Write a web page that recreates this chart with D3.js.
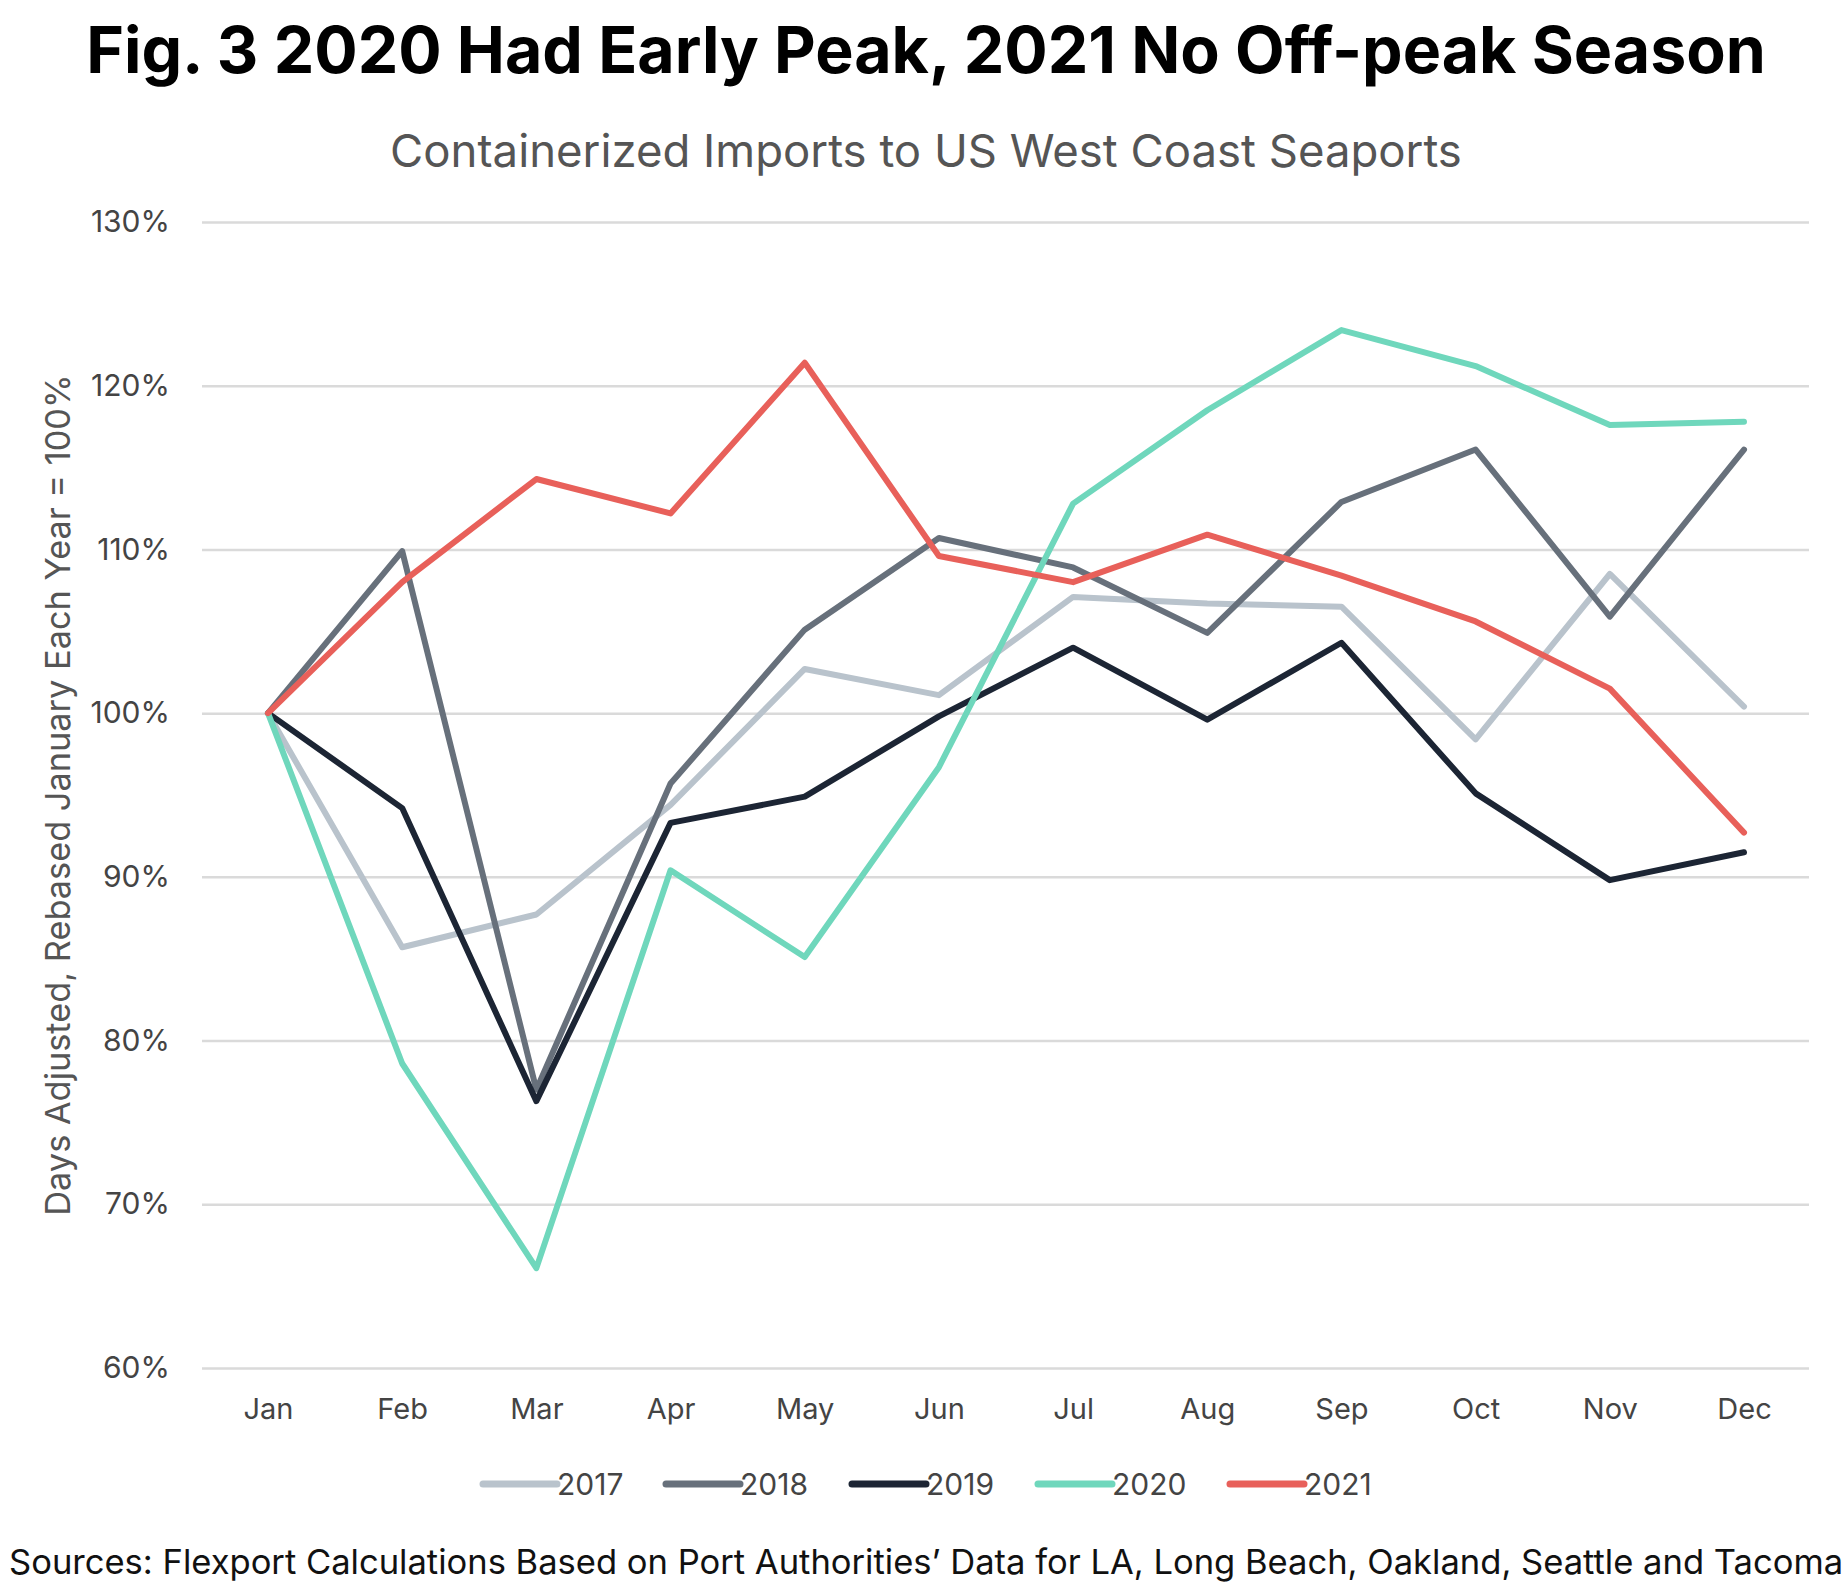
<!DOCTYPE html>
<html>
<head>
<meta charset="utf-8">
<script src="https://cdn.jsdelivr.net/npm/d3@7"></script>
<style>
  body { margin: 0; background: #fff; }
  text { font-family: Inter, "Noto Sans", sans-serif; }
</style>
</head>
<body>
<div id="chart"></div>
<script>
// Data (% of January, per year)
const months = ["Jan", "Feb", "Mar", "Apr", "May", "Jun", "Jul", "Aug", "Sep", "Oct", "Nov", "Dec"];
const years = ["2017", "2018", "2019", "2020", "2021"];
const values2017 = [100, 85.7, 87.7, 94.4, 102.7, 101.1, 107.1, 106.7, 106.5, 98.4, 108.5, 100.4];
const values2018 = [100, 109.9, 77.0, 95.7, 105.1, 110.7, 108.9, 104.9, 112.9, 116.1, 105.9, 116.1];
const values2019 = [100, 94.2, 76.3, 93.3, 94.9, 99.8, 104.0, 99.6, 104.3, 95.1, 89.8, 91.5];
const values2020 = [100, 78.6, 66.1, 90.4, 85.1, 96.7, 112.8, 118.5, 123.4, 121.2, 117.6, 117.8];
const values2021 = [100, 108.0, 114.3, 112.2, 121.4, 109.6, 108.0, 110.9, 108.4, 105.6, 101.5, 92.7];
const yTicks = [60, 70, 80, 90, 100, 110, 120, 130];
const colors = ["#b9c3cc", "#67707b", "#1c2534", "#6fd7bc", "#e8605a"];

const series = years.map((y, i) => ({
    year: y,
    color: colors[i],
    values: [values2017, values2018, values2019, values2020, values2021][i]
}));

const width = 1845, height = 1596;

const svg = d3.select("#chart").append("svg")
    .attr("width", width)
    .attr("height", height);

// Fit a text element to a target width by adjusting its font size
function fitWidth(sel, target) {
    const fs = parseFloat(sel.attr("font-size"));
    const w = sel.node().getComputedTextLength();
    sel.attr("font-size", (fs * target / w).toFixed(2));
}

// Scales
const x = d3.scalePoint().domain(months).range([268, 1744]);
const y = d3.scaleLinear().domain([60, 130]).range([1368, 222]);
const gridLeft = 202, gridRight = 1809;

// Titles
svg.append("text")
    .attr("x", 926).attr("y", 73)
    .attr("text-anchor", "middle")
    .attr("font-size", 62).attr("font-weight", 700)
    .attr("fill", "#000")
    .text("Fig. 3 2020 Had Early Peak, 2021 No Off-peak Season")
    .call(fitWidth, 1680);

svg.append("text")
    .attr("x", 926).attr("y", 167)
    .attr("text-anchor", "middle")
    .attr("font-size", 44)
    .attr("fill", "#555")
    .text("Containerized Imports to US West Coast Seaports")
    .call(fitWidth, 1072);

// Gridlines + y axis labels
const yAxis = d3.axisLeft(y)
    .tickValues(yTicks)
    .tickSize(-(gridRight - gridLeft))
    .tickPadding(32)
    .tickFormat(d => d + "%");

svg.append("g")
    .attr("transform", `translate(${gridLeft},0)`)
    .call(yAxis)
    .call(g => g.select(".domain").remove())
    .call(g => g.selectAll(".tick line").attr("stroke", "#dadada").attr("stroke-width", 2.5))
    .call(g => g.selectAll(".tick text")
        .attr("font-size", 30).attr("fill", "#444")
        .attr("font-family", "Inter, sans-serif"));

// x axis labels
const xAxis = d3.axisBottom(x).tickSize(0).tickPadding(0);
svg.append("g")
    .attr("transform", "translate(0,1398)")
    .call(xAxis)
    .call(g => g.select(".domain").remove())
    .call(g => g.selectAll(".tick text")
        .attr("font-size", 29).attr("fill", "#444")
        .attr("font-family", "Inter, sans-serif"));

// Y axis title
svg.append("text")
    .attr("transform", "translate(70,795) rotate(-90)")
    .attr("text-anchor", "middle")
    .attr("font-size", 32)
    .attr("fill", "#555")
    .text("Days Adjusted, Rebased January Each Year = 100%")
    .call(fitWidth, 842);

// Lines
const line = d3.line()
    .x((d, i) => x(months[i]))
    .y(d => y(d));

svg.append("g")
    .selectAll("path")
    .data(series)
    .enter()
    .append("path")
    .attr("d", d => line(d.values))
    .attr("fill", "none")
    .attr("stroke", d => d.color)
    .attr("stroke-width", 6)
    .attr("stroke-linejoin", "round")
    .attr("stroke-linecap", "round");

// Legend
const legendX = [483, 666, 852, 1038, 1230];
const legend = svg.append("g")
    .selectAll("g")
    .data(series)
    .enter()
    .append("g")
    .attr("transform", (d, i) => `translate(${legendX[i]},1484)`);

legend.append("line")
    .attr("x1", 0).attr("x2", 74)
    .attr("stroke", d => d.color)
    .attr("stroke-width", 7)
    .attr("stroke-linecap", "round");

legend.append("text")
    .attr("x", 74).attr("y", 11)
    .attr("font-size", 30)
    .attr("fill", "#444")
    .text(d => d.year);

// Source note
svg.append("text")
    .attr("x", 9).attr("y", 1574)
    .attr("font-size", 32)
    .attr("fill", "#111")
    .text("Sources: Flexport Calculations Based on Port Authorities’ Data for LA, Long Beach, Oakland, Seattle and Tacoma")
    .call(fitWidth, 1834);
</script>
</body>
</html>
